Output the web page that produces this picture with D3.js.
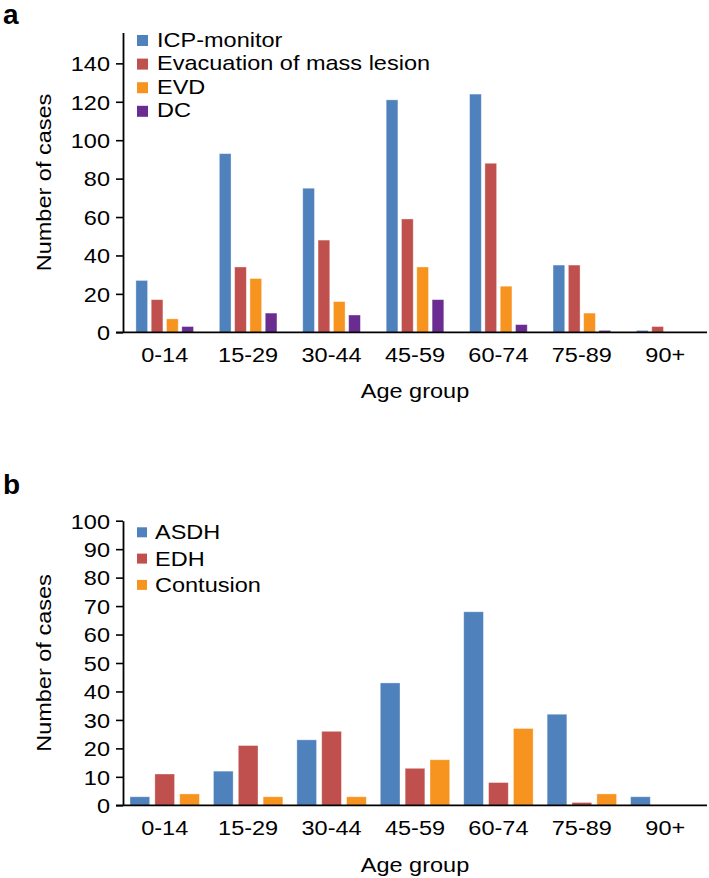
<!DOCTYPE html>
<html><head><meta charset="utf-8">
<script src="https://cdn.jsdelivr.net/npm/d3@7"></script>
<style>
body{margin:0;background:#fff}
svg text{font-family:"Liberation Sans",Arial,Helvetica,sans-serif;fill:#000}
</style>
</head><body><svg id="c" width="709" height="878"></svg>
<script>
// ---- data ----
const ageGroups = ["0-14","15-29","30-44","45-59","60-74","75-89","90+"];

const seriesA = ["ICP-monitor","Evacuation of mass lesion","EVD","DC"];
const icpMonitor = [27,93,75,121,124,35,1];
const evacuation = [17,34,48,59,88,35,3];
const evd        = [7,28,16,34,24,10,0];
const dc         = [3,10,9,17,4,1,0];
const ticksA = [0,20,40,60,80,100,120,140];
const yMaxA = 156;

const seriesB = ["ASDH","EDH","Contusion"];
const asdh      = [3,12,23,43,68,32,3];
const edh       = [11,21,26,13,8,1,0];
const contusion = [4,3,3,16,27,4,0];
const ticksB = [0,10,20,30,40,50,60,70,80,90,100];
const yMaxB = 100;

const colorsA = ["#4F81BD","#C0504D","#F7941F","#6A2C91"];
const colorsB = ["#4F81BD","#C0504D","#F7941F"];

// ---- drawing ----
const svg = d3.select("#c");
const FS = 21, SX = 1.12;
const font = FS + "px";

function panel(cfg){
  const g = svg.append("g");
  const x0 = d3.scaleBand().domain(ageGroups).range([123,707]).padding(0);
  const bw = x0.bandwidth();
  const x1 = d3.scaleBand().domain(cfg.series).range([cfg.gpad, bw-cfg.gpad]).paddingInner(cfg.ipad).paddingOuter(0);
  const y = d3.scaleLinear().domain([0,cfg.yMax]).range([cfg.y0, cfg.yTop]);

  // bars
  cfg.series.forEach((s,si)=>{
    g.append("g").selectAll("rect").data(cfg.values[si]).join("rect")
      .attr("x",(d,i)=>x0(ageGroups[i])+x1(s))
      .attr("width",x1.bandwidth())
      .attr("y",d=>y(d))
      .attr("height",d=>y(0)-y(d))
      .attr("fill",cfg.colors[si])
      .attr("stroke","rgba(255,255,255,0.45)")
      .attr("stroke-width",0.8);
  });

  // y axis
  const ya = g.append("g").attr("transform","translate(123,0)")
    .call(d3.axisLeft(y).tickValues(cfg.ticks).tickSize(7).tickSizeOuter(0).tickFormat(d3.format("d")));
  ya.select(".domain").attr("stroke","#000").attr("stroke-width",1.8);
  ya.selectAll(".tick line").attr("stroke","#000").attr("stroke-width",1.6);
  ya.selectAll(".tick text").attr("x",0).attr("dy","0.35em")
    .attr("transform","translate(-13,0) scale("+SX+",1)")
    .style("font-size",font).attr("fill","#000");

  // x axis
  const xa = g.append("g").attr("transform","translate(0,"+cfg.y0+")")
    .call(d3.axisBottom(x0).tickSize(0).tickSizeOuter(0));
  xa.select(".domain").remove();
  xa.append("line").attr("x1",x0.range()[0]-7).attr("x2",x0.range()[1])
    .attr("stroke","#000").attr("stroke-width",1.8);
  xa.selectAll(".tick text").attr("y",0).attr("dy",0)
    .attr("transform","translate(0,30) scale("+SX+",1)")
    .style("font-size",font).attr("fill","#000");

  // axis titles
  g.append("text").attr("text-anchor","middle")
    .attr("transform","translate("+((x0.range()[0]+x0.range()[1])/2)+","+cfg.xTitleY+") scale("+SX+",1)")
    .style("font-size",font).text("Age group");
  g.append("text").attr("text-anchor","middle")
    .attr("transform","translate(51,"+((cfg.y0+y(cfg.yMax))/2)+") rotate(-90) scale("+SX+",1)")
    .style("font-size",font).text("Number of cases");

  // legend
  cfg.series.forEach((s,si)=>{
    const cy = cfg.legY + si*cfg.legStep;
    g.append("rect").attr("x",137).attr("y",cy-cfg.sq/2).attr("width",cfg.sq).attr("height",cfg.sq)
      .attr("fill",cfg.colors[si]);
    g.append("text").attr("transform","translate("+cfg.legTx+","+(cy+cfg.legDy)+") scale("+SX+",1)")
      .style("font-size",font).text(s);
  });

  // panel letter
  g.append("text").attr("x",3).attr("y",cfg.letterY)
    .style("font-size","28px").style("font-weight","bold").text(cfg.letter);
}

panel({
  series: seriesA, values: [icpMonitor,evacuation,evd,dc], colors: colorsA,
  ticks: ticksA, yMax: yMaxA, y0: 332.3, yTop: 332.3 - yMaxA*1.921,
  gpad: 12.9, ipad: 0.235,
  xTitleY: 398,
  legY: 40.5, legStep: 23.6, legTx: 157, legDy: 6, sq: 11,
  letter: "a", letterY: 24
});

panel({
  series: seriesB, values: [asdh,edh,contusion], colors: colorsB,
  ticks: ticksB, yMax: yMaxB, y0: 805.3, yTop: 520.7,
  gpad: 7, ipad: 0.207,
  xTitleY: 872,
  legY: 532.3, legStep: 26.3, legTx: 155, legDy: 7, sq: 10,
  letter: "b", letterY: 494
});
</script>
</body></html>
